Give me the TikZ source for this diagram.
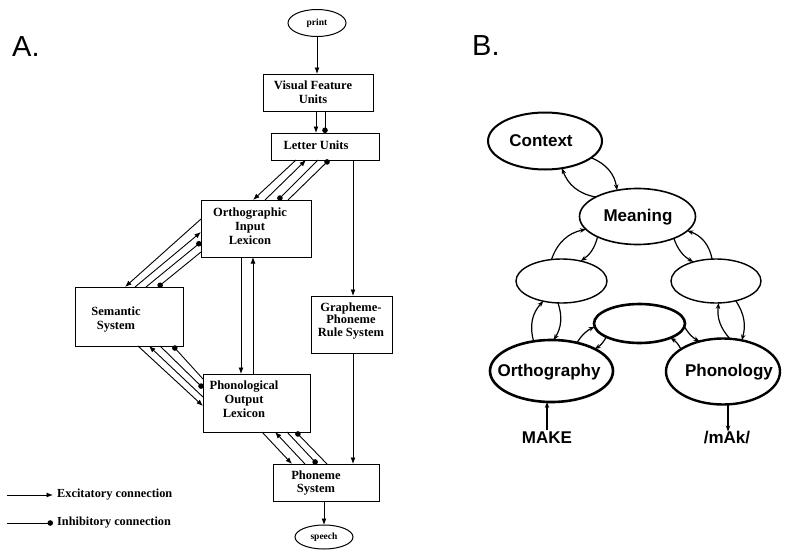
\documentclass[tikz,border=0pt]{standalone}
\usepackage{fontspec}
\setmainfont{Liberation Serif}
\newfontfamily\bsans{Liberation Sans}
\usetikzlibrary{arrows.meta,shapes.geometric,calc}
\begin{document}
\begin{tikzpicture}[x=1pt,y=-1pt,
 box/.style={draw,line width=1pt,inner sep=0pt,outer sep=0pt,rectangle},
 oval/.style={draw,line width=1pt,ellipse,inner sep=0pt,outer sep=0pt,font=\bfseries\fontsize{9.5}{11}\selectfont},
 lbl/.style={align=center,font=\bfseries\fontsize{12.5}{14}\selectfont,inner sep=0pt},
 conn/.style={line width=0.9pt},
 exc/.style={conn,-{Latex[length=6.5pt,width=5pt]}},
 inh/.style={conn,-{Circle[length=5.5pt,width=5.5pt]}},
 legtext/.style={anchor=west,inner sep=0pt,font=\bfseries\fontsize{12.3}{14}\selectfont},
 bell/.style={draw,ellipse,inner sep=0pt,outer sep=0pt},
 btext/.style={inner sep=0pt,font=\bsans\bfseries\fontsize{17}{20}\selectfont},
 barr/.style={line width=1.2pt,-{Stealth[length=6pt,width=4.5pt]}},
 panel/.style={anchor=base west,inner sep=0pt,font=\bsans\fontsize{29}{32}\selectfont},
]
\fill[white] (0,0) rectangle (793,552);
\useasboundingbox (0,0) rectangle (793,552);

% ---------- Panel A ----------
\node[panel] (labA) at (12,56) {A.};
\node[oval,minimum width=58pt,minimum height=27pt] (print) at (317,23) {print};
\node[box,minimum width=110pt,minimum height=37pt] (vfu) at (318,92.5) {};
\node[lbl] (vfuT) at (313,92) {Visual Feature\\Units};
\node[box,minimum width=108pt,minimum height=27pt] (lu) at (325,146.5) {};
\node[lbl] (luT) at (316,145.5) {Letter Units};
\node[box,minimum width=110pt,minimum height=57pt] (ortho) at (256,228.5) {};
\node[lbl] (orthoT) at (250,226) {Orthographic\\Input\\Lexicon};
\node[box,minimum width=108pt,minimum height=59pt] (sem) at (129,316.5) {};
\node[lbl] (semT) at (116,320) {Semantic\\System};
\node[box,minimum width=81pt,minimum height=57pt] (gpr) at (351.5,324.5) {};
\node[lbl,font=\bfseries\fontsize{12.5}{12.5}\selectfont] (gprT) at (351,321) {Grapheme-\\Phoneme\\Rule System};
\node[box,minimum width=107pt,minimum height=58pt] (phono) at (256.5,403) {};
\node[lbl] (phonoT) at (244,399) {Phonological\\Output\\Lexicon};
\node[box,minimum width=106pt,minimum height=37pt] (phon) at (326,482.5) {};
\node[lbl,font=\bfseries\fontsize{12.5}{13}\selectfont] (phonT) at (316,483) {Phoneme\\System};
\node[oval,minimum width=58pt,minimum height=24pt] (speech) at (324,537) {speech};

% vertical connectors
\draw[exc] (print.south) -- (print.south |- vfu.north);
\draw[exc] ([xshift=-2pt]vfu.south) -- ([xshift=-2pt]vfu.south |- lu.north);
\draw[inh] ([xshift=7pt]vfu.south) -- ([xshift=7pt]vfu.south |- lu.north);
\draw[exc] ([xshift=28pt]lu.south) -- ([xshift=28pt]lu.south |- gpr.north);
\draw[exc] ([xshift=1.5pt]gpr.south) -- ([xshift=1.5pt]gpr.south |- phon.north);
\draw[exc] ([xshift=-15pt]ortho.south) -- ([xshift=-15pt]ortho.south |- phono.north);
\draw[exc] ([xshift=-3pt]ortho.south |- phono.north) -- ([xshift=-3pt]ortho.south);
\draw[exc] (phon.south -| speech.north) -- (speech.north);

% Letter Units <-> Orthographic
\draw[exc] ([xshift=25pt]lu.south west) -- ([xshift=52pt]ortho.north west);
\draw[exc] ([xshift=64pt]ortho.north west) -- ([xshift=35pt]lu.south west);
\draw[inh] ([xshift=47pt]lu.south west) -- ([xshift=77pt]ortho.north west);
\draw[inh] ([xshift=87pt]ortho.north west) -- ([xshift=58pt]lu.south west);
% Semantic <-> Orthographic
\draw[exc] ([yshift=-19pt]ortho.north west) -- ([xshift=50pt]sem.north west);
\draw[exc] ([xshift=60pt]sem.north west) -- ([yshift=-32pt]ortho.north west);
\draw[inh] ([xshift=71pt]sem.north west) -- ([yshift=-42pt]ortho.north west);
\draw[inh] ([yshift=-52pt]ortho.north west) -- ([xshift=83pt]sem.north west);
% Semantic <-> Phonological
\draw[exc] ([xshift=63pt]sem.south west) -- ([yshift=-32pt]phono.north west);
\draw[exc] ([yshift=-23pt]phono.north west) -- ([xshift=74pt]sem.south west);
\draw[inh] ([xshift=85pt]sem.south west) -- ([yshift=-14pt]phono.north west);
\draw[inh] ([yshift=-5pt]phono.north west) -- ([xshift=98pt]sem.south west);
% Phonological <-> Phoneme
\draw[exc] ([xshift=59pt]phono.south west) -- ([xshift=19pt]phon.north west);
\draw[exc] ([xshift=32pt]phon.north west) -- ([xshift=72pt]phono.south west);
\draw[inh] ([xshift=84pt]phono.south west) -- ([xshift=44pt]phon.north west);
\draw[inh] ([xshift=54pt]phon.north west) -- ([xshift=93pt]phono.south west);

% legend
\coordinate (ex0) at (7,495);
\node[legtext] (exT) at (57,495) {Excitatory connection};
\draw[exc] (ex0) -- ([xshift=-4pt]exT.west);
\coordinate (in0) at (7,523);
\node[legtext] (inT) at (57,523) {Inhibitory connection};
\draw[inh] (in0) -- ([xshift=-4pt]inT.west);

% ---------- Panel B ----------
\node[panel] (labB) at (472,55) {B.};
\node[bell,line width=2pt,minimum width=114pt,minimum height=57pt] (context) at (545,141) {};
\node[btext] (contextT) at (541,141) {Context};
\node[bell,line width=1.6pt,minimum width=116pt,minimum height=56pt] (meaning) at (637.5,216.5) {};
\node[btext] (meaningT) at (638,217) {Meaning};
\node[bell,line width=1.4pt,minimum width=91pt,minimum height=44pt] (hl) at (561.5,281) {};
\node[bell,line width=1.4pt,minimum width=90pt,minimum height=44pt] (hr) at (716,281) {};
\node[bell,line width=2.6pt,minimum width=91pt,minimum height=39pt] (hm) at (639.5,323.5) {};
\node[bell,line width=2.6pt,minimum width=123pt,minimum height=62pt] (orth) at (551.5,371) {};
\node[btext] (orthT) at (549,372) {Orthography};
\node[bell,line width=2.4pt,minimum width=114pt,minimum height=66pt] (phonol) at (723,371.5) {};
\node[btext] (phonolT) at (729,372) {Phonology};
\node[btext] (make) at (547,438) {MAKE};
\node[btext] (mak) at (727,438) {/mAk/};

\draw[barr] (context.-20) to[bend left=30] (meaning.128);
\draw[barr] (meaning.155) to[bend left=30] (context.-58);
\draw[barr] (hl.115) to[bend left=30] (meaning.194);
\draw[barr] (meaning.207) to[bend left=20] (hl.46);
\draw[barr] (meaning.-31) to[bend right=20] (hr.140);
\draw[barr] (hr.100) to[bend right=30] (meaning.-16);
\draw[barr] (orth.121) to[bend left=30] (hl.228);
\draw[barr] (hl.-99) to[bend left=25] (orth.86);
\draw[barr] (orth.48) to[bend left=15] (hm.184);
\draw[barr] (hm.202) to[bend left=15] (orth.27);
\draw[barr] (phonol.152) to[bend right=15] (hm.-25);
\draw[barr] (hm.-4) to[bend right=15] (phonol.128);
\draw[barr] (phonol.78) to[bend left=25] (hr.-83);
\draw[barr] (hr.-45) to[bend left=25] (phonol.59);
\draw[barr] ([yshift=2pt]make.north) -- (make.north |- orth.south);
\draw[barr] ([xshift=5pt]phonol.south) -- ([xshift=5pt]phonol.south |- mak.north);
\end{tikzpicture}
\end{document}
